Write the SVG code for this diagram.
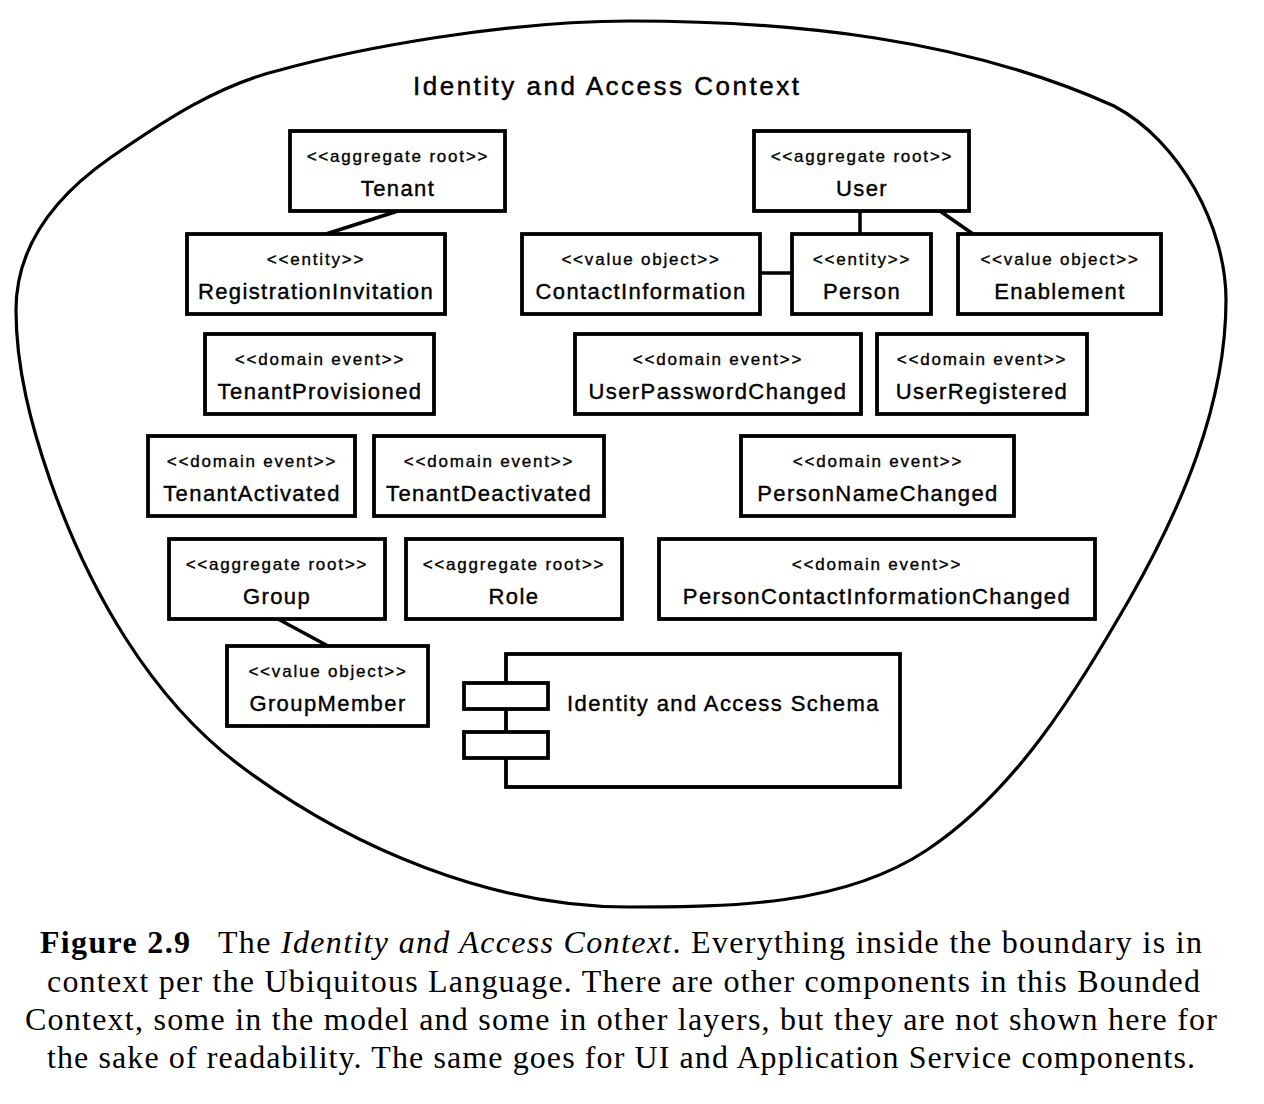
<svg xmlns="http://www.w3.org/2000/svg" width="1264" height="1104" viewBox="0 0 1264 1104">
<style>
  .bg { fill: #ffffff; }
  .boundary { fill: none; stroke: #000; stroke-width: 3.2; }
  .box { fill: #fff; stroke: #000; stroke-width: 3.8; }
  .conn { stroke: #000; stroke-width: 3.5; fill: none; }
  .st { font-family: "Liberation Sans", Arial, sans-serif; font-size: 17px; letter-spacing: 1.8px; text-anchor: middle; fill: #000; stroke: #000; stroke-width: 0.35px; }
  .nm { font-family: "Liberation Sans", Arial, sans-serif; font-size: 22px; letter-spacing: 1.4px; text-anchor: middle; fill: #000; stroke: #000; stroke-width: 0.4px; }
  .title { font-family: "Liberation Sans", Arial, sans-serif; font-size: 26px; letter-spacing: 2.5px; fill: #000; stroke: #000; stroke-width: 0.45px; }
  .cap { font-family: "Liberation Serif", "Times New Roman", serif; font-size: 32px; fill: #000; }
</style>
<rect class="bg" x="0" y="0" width="1264" height="1104"/>

<g id="boundary">
  <path class="boundary" d="M630,21 C790,21 963,38 1114,106 C1180,141 1226,227 1226,300 C1226,405 1181,509 1129,600 C1075,693 1016,791 927,850 C843,906 730,907 629,907 C492,907 352,849 242,767 C150,699 88,588 50,480 C31,425 16,368 16,310 C16,249 50,200 110,158 C165,120 218,85 280,70 C360,48 505,21 630,21 Z"/>
  <text class="title" x="413" y="95">Identity and Access Context</text>
</g>

<g id="connectors">
  <line class="conn" x1="398" y1="211" x2="326" y2="234"/>
  <line class="conn" x1="860" y1="211" x2="860" y2="234"/>
  <line class="conn" x1="760" y1="273" x2="792" y2="273"/>
  <line class="conn" x1="940" y1="211" x2="973" y2="234"/>
  <line class="conn" x1="278" y1="619" x2="328" y2="646"/>
</g>

<g id="tenant">
  <rect class="box" x="290" y="131" width="215" height="80"/>
  <text class="st" x="398" y="162">&lt;&lt;aggregate root&gt;&gt;</text>
  <text class="nm" x="398" y="196">Tenant</text>
</g>
<g id="user">
  <rect class="box" x="754" y="131" width="215" height="80"/>
  <text class="st" x="862" y="162">&lt;&lt;aggregate root&gt;&gt;</text>
  <text class="nm" x="862" y="196">User</text>
</g>
<g id="registration-invitation">
  <rect class="box" x="187" y="234" width="258" height="80"/>
  <text class="st" x="316" y="265">&lt;&lt;entity&gt;&gt;</text>
  <text class="nm" x="316" y="299">RegistrationInvitation</text>
</g>
<g id="contact-information">
  <rect class="box" x="522" y="234" width="238" height="80"/>
  <text class="st" x="641" y="265">&lt;&lt;value object&gt;&gt;</text>
  <text class="nm" x="641" y="299">ContactInformation</text>
</g>
<g id="person">
  <rect class="box" x="792" y="234" width="139" height="80"/>
  <text class="st" x="862" y="265">&lt;&lt;entity&gt;&gt;</text>
  <text class="nm" x="862" y="299">Person</text>
</g>
<g id="enablement">
  <rect class="box" x="958" y="234" width="203" height="80"/>
  <text class="st" x="1060" y="265">&lt;&lt;value object&gt;&gt;</text>
  <text class="nm" x="1060" y="299">Enablement</text>
</g>
<g id="tenant-provisioned">
  <rect class="box" x="205" y="334" width="229" height="80"/>
  <text class="st" x="320" y="365">&lt;&lt;domain event&gt;&gt;</text>
  <text class="nm" x="320" y="399">TenantProvisioned</text>
</g>
<g id="user-password-changed">
  <rect class="box" x="575" y="334" width="286" height="80"/>
  <text class="st" x="718" y="365">&lt;&lt;domain event&gt;&gt;</text>
  <text class="nm" x="718" y="399">UserPasswordChanged</text>
</g>
<g id="user-registered">
  <rect class="box" x="877" y="334" width="210" height="80"/>
  <text class="st" x="982" y="365">&lt;&lt;domain event&gt;&gt;</text>
  <text class="nm" x="982" y="399">UserRegistered</text>
</g>
<g id="tenant-activated">
  <rect class="box" x="148" y="436" width="207" height="80"/>
  <text class="st" x="252" y="467">&lt;&lt;domain event&gt;&gt;</text>
  <text class="nm" x="252" y="501">TenantActivated</text>
</g>
<g id="tenant-deactivated">
  <rect class="box" x="374" y="436" width="230" height="80"/>
  <text class="st" x="489" y="467">&lt;&lt;domain event&gt;&gt;</text>
  <text class="nm" x="489" y="501">TenantDeactivated</text>
</g>
<g id="person-name-changed">
  <rect class="box" x="741" y="436" width="273" height="80"/>
  <text class="st" x="878" y="467">&lt;&lt;domain event&gt;&gt;</text>
  <text class="nm" x="878" y="501">PersonNameChanged</text>
</g>
<g id="group">
  <rect class="box" x="169" y="539" width="216" height="80"/>
  <text class="st" x="277" y="570">&lt;&lt;aggregate root&gt;&gt;</text>
  <text class="nm" x="277" y="604">Group</text>
</g>
<g id="role">
  <rect class="box" x="406" y="539" width="216" height="80"/>
  <text class="st" x="514" y="570">&lt;&lt;aggregate root&gt;&gt;</text>
  <text class="nm" x="514" y="604">Role</text>
</g>
<g id="person-contact-information-changed">
  <rect class="box" x="659" y="539" width="436" height="80"/>
  <text class="st" x="877" y="570">&lt;&lt;domain event&gt;&gt;</text>
  <text class="nm" x="877" y="604">PersonContactInformationChanged</text>
</g>
<g id="group-member">
  <rect class="box" x="227" y="646" width="201" height="80"/>
  <text class="st" x="328" y="677">&lt;&lt;value object&gt;&gt;</text>
  <text class="nm" x="328" y="711">GroupMember</text>
</g>
<g id="identity-access-schema">
  <rect class="box" x="506" y="654" width="394" height="133"/>
  <rect class="box" x="464" y="683" width="84" height="26"/>
  <rect class="box" x="464" y="732" width="84" height="26"/>
  <text class="nm" x="567" y="711" style="text-anchor:start">Identity and Access Schema</text>
</g>

<g id="caption">
  <text class="cap" x="40" y="953" font-weight="bold" textLength="150" lengthAdjust="spacing">Figure 2.9</text>
  <text class="cap" x="218" y="953" textLength="984" lengthAdjust="spacing">The <tspan font-style="italic">Identity and Access Context</tspan>. Everything inside the boundary is in</text>
  <text class="cap" x="47" y="992" textLength="1153" lengthAdjust="spacing">context per the Ubiquitous Language. There are other components in this Bounded</text>
  <text class="cap" x="25" y="1030" textLength="1192" lengthAdjust="spacing">Context, some in the model and some in other layers, but they are not shown here for</text>
  <text class="cap" x="47" y="1068" textLength="1148" lengthAdjust="spacing">the sake of readability. The same goes for UI and Application Service components.</text>
</g>
</svg>
